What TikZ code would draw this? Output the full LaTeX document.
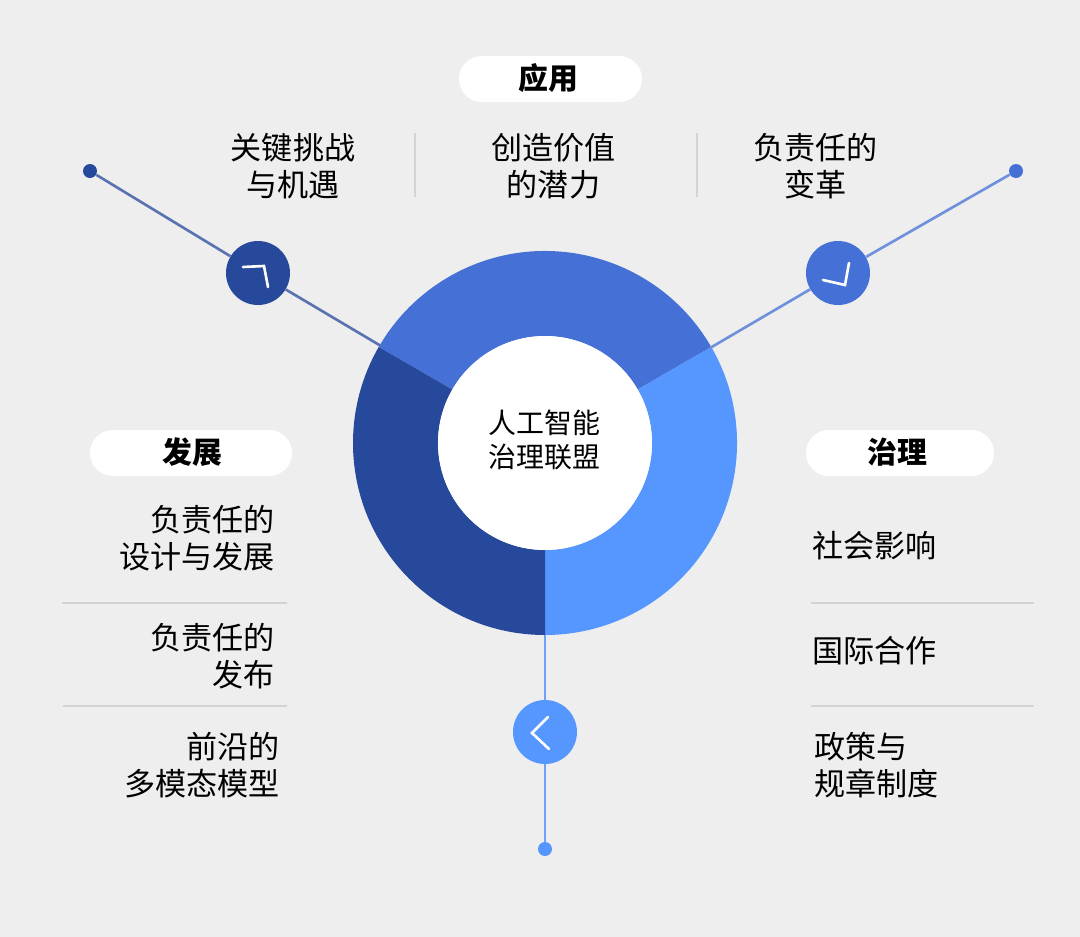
\documentclass[tikz,border=0pt]{standalone}
\usepackage{fontspec}
\setmainfont{Noto Sans CJK SC}
\usetikzlibrary{positioning}
\definecolor{bgcol}{HTML}{EEEEEE}
\definecolor{topcol}{HTML}{4570D6}
\definecolor{rightcol}{HTML}{5596FF}
\definecolor{leftcol}{HTML}{27499B}
\definecolor{sepcol}{HTML}{D2D3D5}
\tikzset{
  pill/.style={fill=white,rounded corners=13pt,minimum height=46*0.02cm,inner sep=0pt},
  pilltext/.style={inner sep=0pt,font=\fontsize{17}{21}\selectfont\bfseries},
  bigdot/.style={circle,minimum size=64*0.02cm,inner sep=0pt},
  smalldot/.style={circle,minimum size=14*0.02cm,inner sep=0pt},
  label/.style={inner sep=0pt,font=\fontsize{17.7}{21}\selectfont,text=black},
  sepline/.style={sepcol,line width=1.1pt},
  chev/.style={white!85!bgcol,line width=1.5pt,line cap=round}
}
\begin{document}
\begin{tikzpicture}[x=0.02cm,y=-0.02cm]
\useasboundingbox (0,0) rectangle (1080,937);
\fill [bgcol] (0,0) rectangle (1080,937);
% ring
\coordinate (c) at (545,443);
\fill [topcol] ([shift={(-30:192)}]c) arc (-30:-150:192) -- ([shift={(-150:107)}]c) arc (-150:-30:107) -- cycle;
\fill [rightcol] ([shift={(-30:192)}]c) arc (-30:90:192) -- ([shift={(90:107)}]c) arc (90:-30:107) -- cycle;
\fill [leftcol] ([shift={(90:192)}]c) arc (90:210:192) -- ([shift={(210:107)}]c) arc (210:90:107) -- cycle;
\node [circle,fill=white,minimum size=214*0.02cm,inner sep=0pt] (hub) at (545,443) {};
\node [label,align=center,font=\fontsize{15.9}{19}\selectfont] (hubtext) at (544.5,440) {人工智能\\治理联盟};
% ring ends of the lines
\coordinate (ringl) at (381,346);
\coordinate (ringr) at (710,348);
\coordinate (ringb) at (545,635);
% dots
\node [bigdot,fill=leftcol] (arrowl) at (258,273) {};
\node [bigdot,fill=topcol] (arrowr) at (838,273) {};
\node [bigdot,fill=rightcol] (arrowb) at (545,732) {};
\node [smalldot,fill=leftcol] (endl) at (90,171) {};
\node [smalldot,fill=topcol] (endr) at (1016,171) {};
\node [smalldot,fill=rightcol] (endb) at (545,849) {};
\draw [leftcol!75!bgcol,line width=1.5pt] (endl) -- (arrowl);
\draw [leftcol!75!bgcol,line width=1.5pt] (arrowl) -- (ringl);
\draw [topcol!75!bgcol,line width=1.5pt] (endr) -- (arrowr);
\draw [topcol!75!bgcol,line width=1.5pt] (arrowr) -- (ringr);
\draw [rightcol!85!bgcol,line width=1.7pt] (arrowb) -- (endb);
\draw [rightcol!85!bgcol,line width=1.7pt] (ringb) -- (arrowb);
% chevrons
\draw [chev] (243,267) -- (264,266) -- (268,287);
\draw [chev] (823,280) -- (845,285) -- (849,263);
\draw [chev] (548,717) -- (532,733) -- (549,749);
% titles
\node [pill,minimum width=183*0.02cm] (titleapp) at (550.5,79) {};
\node [pill,minimum width=202*0.02cm] (titledev) at (191,453) {};
\node [pill,minimum width=188*0.02cm] (titlegov) at (900,453) {};
\node [pilltext] (textapp) at (548,78) {应用};
\node [pilltext] (textdev) at (192,452) {发展};
\node [pilltext] (textgov) at (897.5,452) {治理};
% top labels
\node [label,align=center] (app1) at (293,166) {关键挑战\\与机遇};
\node [label,align=center] (app2) at (553.5,166) {创造价值\\的潜力};
\node [label,align=center] (app3) at (815.5,166) {负责任的\\变革};
\draw [sepline] (415,133) -- (415,197);
\draw [sepline] (697,133) -- (697,197);
% left labels
\node [label,align=right,anchor=east] (dev1) at (275,538) {负责任的\\设计与发展};
\node [label,align=right,anchor=east] (dev2) at (275,656) {负责任的\\发布};
\node [label,align=right,anchor=east] (dev3) at (280,765) {前沿的\\多模态模型};
\draw [sepline] (62,603) -- (287,603);
\draw [sepline] (63,706) -- (287,706);
% right labels
\node [label,anchor=west] (gov1) at (812,546) {社会影响};
\node [label,anchor=west] (gov2) at (812,651) {国际合作};
\node [label,align=left,anchor=west] (gov3) at (814,765) {政策与\\规章制度};
\draw [sepline] (811,603) -- (1034,603);
\draw [sepline] (811,706) -- (1034,706);
\end{tikzpicture}
\end{document}
